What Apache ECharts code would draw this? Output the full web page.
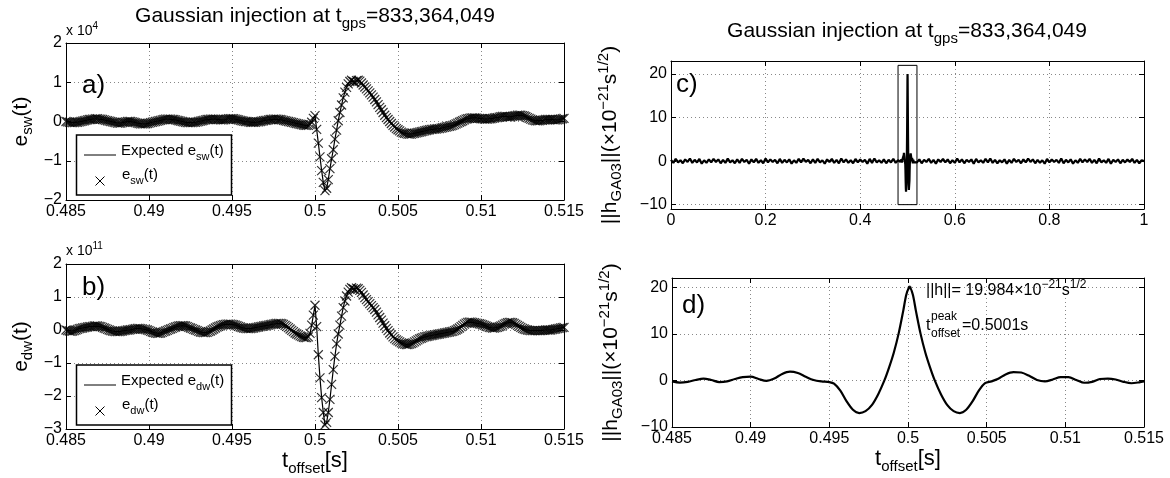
<!DOCTYPE html>
<html><head><meta charset="utf-8">
<script src="https://cdn.jsdelivr.net/npm/echarts@6/dist/echarts.min.js"></script>
<style>html,body{margin:0;padding:0;background:#fff}#c{width:1170px;height:478px}</style>
</head><body><div id="c"></div>
<script>
// ---------------- data ----------------
const tStart = 0.485, tStep = 0.0001;           // sample grid of panels a) and b)
// panel a) e_sw(t) in units of 1e4
const eswVals = [
0.00,-0.01,-0.02,-0.03,-0.03,-0.03,-0.02,-0.02,-0.01,0.00,
0.01,0.02,0.03,0.04,0.05,0.05,0.06,0.06,0.07,0.07,
0.06,0.06,0.05,0.04,0.03,0.02,0.01,0.00,-0.01,-0.02,
-0.03,-0.04,-0.04,-0.04,-0.03,-0.02,-0.01,0.00,0.00,0.00,
-0.01,-0.02,-0.03,-0.04,-0.05,-0.06,-0.06,-0.06,-0.06,-0.05,
-0.04,-0.03,-0.02,-0.01,0.00,0.01,0.02,0.03,0.04,0.05,
0.06,0.06,0.06,0.06,0.05,0.05,0.04,0.03,0.02,0.01,
0.00,-0.01,-0.02,-0.03,-0.03,-0.03,-0.03,-0.02,-0.02,-0.01,
0.00,0.01,0.02,0.03,0.04,0.05,0.05,0.06,0.06,0.06,
0.06,0.05,0.05,0.04,0.04,0.04,0.05,0.06,0.07,0.07,
0.07,0.07,0.06,0.05,0.04,0.03,0.02,0.01,0.00,0.00,
-0.01,-0.02,-0.02,-0.02,-0.02,-0.01,-0.01,0.00,0.01,0.02,
0.03,0.03,0.04,0.05,0.05,0.06,0.06,0.06,0.05,0.05,
0.04,0.03,0.02,0.01,0.00,-0.01,-0.02,-0.03,-0.04,-0.05,
-0.06,-0.07,-0.08,-0.09,-0.10,-0.10,-0.10,-0.08,-0.02,0.08,
0.15,-0.20,-0.55,-0.90,-1.25,-1.55,-1.76,-1.70,-1.48,-1.20,
-0.95,-0.72,-0.45,-0.22,0.02,0.23,0.42,0.60,0.75,0.87,
0.96,1.02,1.05,1.02,1.00,1.04,1.05,1.03,0.98,0.93,
0.88,0.83,0.78,0.73,0.68,0.62,0.56,0.50,0.43,0.36,
0.30,0.23,0.16,0.10,0.05,0.00,-0.05,-0.10,-0.14,-0.18,
-0.21,-0.24,-0.27,-0.29,-0.30,-0.31,-0.32,-0.32,-0.32,-0.31,
-0.30,-0.29,-0.28,-0.27,-0.26,-0.25,-0.24,-0.23,-0.22,-0.21,
-0.20,-0.20,-0.19,-0.19,-0.18,-0.18,-0.17,-0.16,-0.15,-0.14,
-0.13,-0.12,-0.11,-0.10,-0.08,-0.06,-0.04,-0.02,0.00,0.02,
0.04,0.06,0.07,0.08,0.09,0.09,0.09,0.09,0.08,0.08,
0.07,0.07,0.06,0.06,0.06,0.07,0.07,0.08,0.09,0.10,
0.10,0.11,0.12,0.13,0.13,0.13,0.12,0.12,0.12,0.13,
0.14,0.15,0.16,0.16,0.16,0.15,0.14,0.12,0.10,0.08,
0.06,0.04,0.03,0.02,0.02,0.02,0.03,0.03,0.04,0.05,
0.05,0.05,0.05,0.05,0.04,0.04,0.04,0.05,0.06,0.07,0.08];
// panel b) e_dw(t) in units of 1e11
const edwVals = [
0.00,-0.02,-0.03,-0.04,-0.03,-0.02,0.00,0.02,0.04,0.05,
0.06,0.07,0.08,0.09,0.10,0.10,0.11,0.12,0.12,0.12,
0.11,0.10,0.08,0.06,0.04,0.02,0.00,-0.02,-0.03,-0.04,
-0.05,-0.05,-0.05,-0.04,-0.03,-0.02,-0.01,0.00,0.00,0.01,
0.02,0.03,0.04,0.05,0.05,0.04,0.03,0.02,0.01,0.00,
-0.02,-0.04,-0.06,-0.08,-0.09,-0.10,-0.10,-0.09,-0.07,-0.05,
-0.03,-0.01,0.01,0.03,0.05,0.07,0.09,0.11,0.12,0.13,
0.13,0.13,0.12,0.10,0.08,0.06,0.04,0.02,0.00,-0.02,
-0.04,-0.06,-0.07,-0.08,-0.08,-0.07,-0.05,-0.03,0.00,0.03,
0.06,0.09,0.11,0.13,0.15,0.16,0.17,0.18,0.18,0.18,
0.17,0.16,0.15,0.13,0.11,0.09,0.07,0.06,0.05,0.04,
0.04,0.04,0.05,0.06,0.07,0.08,0.09,0.10,0.11,0.12,
0.13,0.14,0.15,0.16,0.17,0.18,0.19,0.20,0.20,0.20,
0.19,0.17,0.14,0.11,0.07,0.03,-0.01,-0.05,-0.09,-0.12,
-0.15,-0.18,-0.20,-0.22,-0.23,-0.23,-0.21,-0.10,0.15,0.45,
0.75,0.10,-0.75,-1.45,-2.05,-2.50,-2.88,-2.80,-2.50,-2.10,
-1.65,-1.20,-0.80,-0.42,-0.12,0.15,0.42,0.68,0.88,1.03,
1.15,1.23,1.28,1.25,1.22,1.27,1.25,1.20,1.14,1.06,
0.98,0.92,0.86,0.80,0.74,0.68,0.62,0.54,0.46,0.38,
0.30,0.21,0.13,0.05,-0.02,-0.09,-0.15,-0.21,-0.26,-0.30,
-0.33,-0.36,-0.39,-0.41,-0.43,-0.44,-0.44,-0.43,-0.41,-0.39,
-0.36,-0.33,-0.30,-0.27,-0.25,-0.23,-0.21,-0.20,-0.19,-0.18,
-0.17,-0.16,-0.15,-0.14,-0.13,-0.12,-0.11,-0.10,-0.09,-0.08,
-0.07,-0.06,-0.05,-0.04,-0.02,0.00,0.03,0.06,0.10,0.14,
0.18,0.21,0.23,0.24,0.24,0.23,0.22,0.21,0.20,0.19,
0.18,0.16,0.14,0.12,0.10,0.08,0.07,0.06,0.06,0.07,
0.08,0.10,0.12,0.15,0.18,0.20,0.22,0.23,0.23,0.22,
0.20,0.17,0.14,0.11,0.08,0.05,0.03,0.01,0.00,-0.01,
-0.02,-0.02,-0.02,-0.02,-0.02,-0.02,-0.02,-0.01,-0.01,0.00,
0.00,0.00,0.00,0.01,0.02,0.03,0.04,0.05,0.06,0.07,0.08];
// panel d) ||h_GA03|| (1e-21 s^1/2) around the peak
const tD = [0.4850,0.4855,0.4860,0.4865,0.4870,0.4875,0.4880,0.4885,0.4890,0.4895,0.4900,0.4905,0.4910,0.4915,0.4920,0.4925,0.4930,0.4935,0.4940,0.4945,0.4950,
0.4953,0.4957,0.4961,0.4965,0.4969,0.4973,0.4977,0.4981,0.4985,0.4988,0.4991,0.4994,0.4997,0.4999,0.5001,0.5003,0.5005,0.5008,0.5011,0.5014,0.5017,
0.5021,0.5025,0.5029,0.5033,0.5037,0.5041,0.5045,0.5049,0.5053,0.5057,0.5062,0.5067,0.5072,0.5077,0.5082,0.5087,0.5092,0.5097,0.5102,0.5107,0.5112,
0.5117,0.5122,0.5127,0.5132,0.5137,0.5142,0.5147,0.5150];
const hD = [-0.2,-0.45,-0.3,0.1,0.4,0.1,-0.35,-0.2,0.3,0.7,0.8,0.3,-0.1,0.4,1.4,1.9,1.6,0.8,0.1,-0.2,-0.35,
-0.7,-2.2,-4.5,-6.3,-7.0,-6.6,-5.3,-3.0,0.0,2.8,6.0,10.0,15.0,18.5,20.0,18.5,15.0,10.0,6.0,2.8,0.0,
-3.0,-5.3,-6.6,-7.0,-6.3,-4.5,-2.2,-0.6,-0.2,0.3,1.3,1.8,1.7,1.0,0.1,-0.2,0.2,0.7,0.7,0.1,-0.5,
-0.3,0.3,0.4,0.2,-0.3,-0.6,-0.4,-0.2];
const dPeak = [0.5001, 19.984];
// panel c) whole second: background before / after the injection window
const cStep = 0.005, cLeftStart = 0, cRightStart = 0.52;
const cNoiseL = [
0.3,-0.4,0.5,-0.3,0.2,-0.5,0.4,-0.2,0.6,-0.4,
0.3,-0.3,0.5,-0.6,0.2,-0.4,0.4,-0.3,0.5,-0.2,
0.4,-0.5,0.3,-0.4,0.6,-0.3,0.2,-0.5,0.4,-0.4,
0.5,-0.2,0.3,-0.6,0.4,-0.3,0.5,-0.4,0.2,-0.5,
0.6,-0.3,0.4,-0.2,0.3,-0.5,0.5,-0.4,0.3,-0.3,
0.4,-0.6,0.2,-0.4,0.5,-0.3,0.6,-0.2,0.3,-0.5,
0.4,-0.4,0.5,-0.3,0.2,-0.6,0.4,-0.2,0.5,-0.4,
0.3,-0.5,0.6,-0.3,0.4,-0.4,0.2,-0.5,0.5,-0.3,
0.4,-0.2,0.3,-0.6,0.5,-0.4,0.6,-0.3,0.2,-0.4,
0.4,-0.5,0.3,-0.3,0.5,-0.4,0.2];
const cNoiseR = [
-0.3,0.4,-0.5,0.3,-0.2,0.5,-0.4,0.3,-0.6,0.4,
-0.2,0.5,-0.3,0.4,-0.5,0.2,-0.4,0.6,-0.3,0.4,
-0.5,0.3,-0.2,0.4,-0.6,0.5,-0.3,0.2,-0.4,0.5,
-0.3,0.6,-0.4,0.3,-0.5,0.2,-0.3,0.4,-0.6,0.3,
-0.4,0.5,-0.2,0.3,-0.5,0.4,-0.3,0.6,-0.2,0.4,
-0.5,0.3,-0.4,0.2,-0.6,0.5,-0.3,0.4,-0.2,0.3,
-0.4,0.6,-0.5,0.3,-0.3,0.4,-0.6,0.2,-0.4,0.5,
-0.3,0.4,-0.2,0.5,-0.4,0.3,-0.5,0.6,-0.3,0.2,
-0.4,0.5,-0.6,0.3,-0.2,0.4,-0.5,0.3,-0.3,0.4,
-0.2,0.5,-0.4,0.3,-0.5,0.2,0.0];
const cBox = [[0.48, -10], [0.52, 22]];
// axis ranges / tick steps
const zoomRange = [0.485, 0.515], zoomStep = 0.005;
const fullRange = [0, 1], fullStep = 0.2;
const aRange = [-2, 2], bRange = [-3, 2], cRange = [-11, 23], dRange = [-10, 22];
// texts
const titleRich = '{m|Gaussian injection at t}{s|gps}{m|=833,364,049}';

// ---------------- fonts ----------------
const RF = '"Liberation Sans", Arial, sans-serif';

// ---------------- build data ----------------
const tAB = eswVals.map((_, i) => +(tStart + i * tStep).toFixed(4));
const aData = tAB.map((t, i) => [t, eswVals[i]]);
const bData = tAB.map((t, i) => [t, edwVals[i]]);
const dData = tD.map((t, i) => [t, hD[i]]);
const cData = [].concat(
  cNoiseL.map((v, i) => [+(cLeftStart + i * cStep).toFixed(3), v]),
  dData,
  cNoiseR.map((v, i) => [+(cRightStart + i * cStep).toFixed(3), v]));

const fmt = v => String(+(+v).toFixed(6)).replace('-', '\u2212');
const axLine = {show: true, onZero: false, lineStyle: {color: '#000', width: 1}};
const axTick = {show: true, inside: true, length: 5, lineStyle: {color: '#000', width: 1}};
const split = {show: true, lineStyle: {color: '#888', type: [1, 3], width: 1}};
const lab = {color: '#000', fontFamily: RF, fontSize: 16, margin: 4, formatter: fmt};

function xPair(gi, range, step, extra) {
  const base = {type: 'value', gridIndex: gi, min: range[0], max: range[1], interval: step, axisLine: axLine, axisTick: axTick};
  return [Object.assign({}, base, {position: 'bottom', axisLabel: lab, splitLine: split}, extra || {}),
          Object.assign({}, base, {position: 'top', axisLabel: {show: false}, splitLine: {show: false}})];
}
function yPair(gi, range, step, extra, hideMax) {
  const base = {type: 'value', gridIndex: gi, min: range[0], max: range[1], axisLine: axLine, axisTick: axTick};
  if (step) base.interval = step; else base.splitNumber = 3;
  const l = Object.assign({}, lab);
  if (!step) { l.showMinLabel = false; l.showMaxLabel = false; }
  if (hideMax) l.showMaxLabel = false;
  return [Object.assign({}, base, {position: 'left', axisLabel: l, splitLine: split}, extra || {}),
          Object.assign({}, base, {position: 'right', axisLabel: {show: false}, splitLine: {show: false}})];
}
const nameRichRot = {
  m: {fontFamily: RF, fontSize: 21, color: '#000'},
  s: {fontFamily: RF, fontSize: 15, color: '#000', padding: [13, 0, 0, 0]},
  p: {fontFamily: RF, fontSize: 15, color: '#000', padding: [0, 0, 13, 0]}
};
const nameRichX = {
  m: {fontFamily: RF, fontSize: 22, color: '#000'},
  s: {fontFamily: RF, fontSize: 15, color: '#000', padding: [15, 0, 0, 0]}
};
const yName = txt => ({name: txt, nameLocation: 'middle', nameRotate: 90, nameTextStyle: {rich: nameRichRot}});
const hName = '{m|||h}{s|GA03}{m|||(\u00d710}{p|\u221221}{m|s}{p|1/2}{m|)}';
const xName = {name: '{m|t}{s|offset}{m|[s]}', nameLocation: 'middle', nameGap: 14, nameTextStyle: {rich: nameRichX}};

const xAxis = [].concat(
  xPair(0, zoomRange, zoomStep),
  xPair(1, zoomRange, zoomStep, xName),
  xPair(2, fullRange, fullStep),
  xPair(3, zoomRange, zoomStep, xName));
const yAxis = [].concat(
  yPair(0, aRange, 1, Object.assign(yName('{m|e}{s|sw}{m|(t)}'), {nameGap: 31})),
  yPair(1, bRange, 1, Object.assign(yName('{m|e}{s|dw}{m|(t)}'), {nameGap: 31})),
  yPair(2, cRange, 0, Object.assign(yName(hName), {nameGap: 47})),
  yPair(3, dRange, 10, Object.assign(yName(hName), {nameGap: 47}), true));

const crossPath = 'path://M0,0L10,10M10,0L0,10';
function markerSeries(data, xi, yi, name) {
  return {name, type: 'scatter', xAxisIndex: xi, yAxisIndex: yi, data, symbol: crossPath, symbolSize: 9, clip: false,
    itemStyle: {color: 'rgba(0,0,0,0)', borderColor: '#000', borderWidth: 1.2}, z: 3, silent: true};
}
function lineSeries(data, xi, yi, name, w, extra) {
  return Object.assign({name, type: 'line', xAxisIndex: xi, yAxisIndex: yi, data, showSymbol: false, symbol: 'none',
    lineStyle: {color: '#000', width: w}, z: 2, silent: true}, extra || {});
}

const series = [
  lineSeries(aData, 0, 0, 'Expected e_sw(t)', 1.2),
  markerSeries(aData, 0, 0, 'e_sw(t)'),
  lineSeries(bData, 2, 2, 'Expected e_dw(t)', 1.2),
  markerSeries(bData, 2, 2, 'e_dw(t)'),
  lineSeries(cData, 4, 4, '||h_GA03|| full', 2.2, {
    markArea: {silent: true, itemStyle: {color: 'rgba(0,0,0,0)', borderColor: '#000', borderWidth: 1},
      data: [[{coord: cBox[0]}, {coord: cBox[1]}]]}}),
  lineSeries(dData, 6, 6, '||h_GA03|| zoom', 2.2, {smooth: 0.3}),
  {type: 'scatter', xAxisIndex: 6, yAxisIndex: 6, data: [dPeak], symbol: 'circle', symbolSize: 4,
    itemStyle: {color: '#000'}, z: 4, silent: true}
];

// ---------------- free text / legends ----------------
const G = [];
function txt(x, y, text, rich, align) {
  G.push({type: 'text', x, y, z: 100, silent: true,
    style: {text, rich, align: align || 'left', verticalAlign: 'middle', fill: '#000'}});
}
const titleStyle = {
  m: {fontFamily: RF, fontSize: 21, fill: '#000'},
  s: {fontFamily: RF, fontSize: 15, fill: '#000', padding: [15, 0, 0, 0]}
};
txt(315, 16, titleRich, titleStyle, 'center');
txt(907, 31, titleRich, titleStyle, 'center');
const expStyle = {
  m: {fontFamily: RF, fontSize: 14, fill: '#000'},
  p: {fontFamily: RF, fontSize: 10, fill: '#000', padding: [0, 0, 10, 0]}
};
txt(66, 31, '{m|x 10}{p|4}', expStyle);
txt(66, 251, '{m|x 10}{p|11}', expStyle);
const letterStyle = {m: {fontFamily: RF, fontSize: 26, fill: '#000'}};
txt(82, 86, '{m|a)}', letterStyle);
txt(82, 288, '{m|b)}', letterStyle);
txt(676, 85, '{m|c)}', letterStyle);
txt(682, 306, '{m|d)}', letterStyle);

const legStyle = {
  m: {fontFamily: RF, fontSize: 15, fill: '#000'},
  s: {fontFamily: RF, fontSize: 11, fill: '#000', padding: [11, 0, 0, 0]}
};
function legend(top, sub) {
  G.push({type: 'rect', z: 100, silent: true, shape: {x: 76.5, y: top, width: 155, height: 60},
    style: {fill: '#fff', stroke: '#000', lineWidth: 1.5}});
  G.push({type: 'line', z: 101, silent: true, shape: {x1: 84, y1: top + 20, x2: 116, y2: top + 20},
    style: {stroke: '#000', lineWidth: 1}});
  const cx = 100, cy = top + 46, r = 4.5;
  G.push({type: 'line', z: 101, silent: true, shape: {x1: cx - r, y1: cy - r, x2: cx + r, y2: cy + r}, style: {stroke: '#000', lineWidth: 1}});
  G.push({type: 'line', z: 101, silent: true, shape: {x1: cx - r, y1: cy + r, x2: cx + r, y2: cy - r}, style: {stroke: '#000', lineWidth: 1}});
  txt(121, top + 16, '{m|Expected e}{s|' + sub + '}{m|(t)}', legStyle);
  txt(122, top + 40, '{m|e}{s|' + sub + '}{m|(t)}', legStyle);
}
legend(135, 'sw');
legend(365, 'dw');

const annStyle = {
  m: {fontFamily: RF, fontSize: 16, fill: '#000'},
  p: {fontFamily: RF, fontSize: 12, fill: '#000', padding: [0, 0, 12, 0]}
};
const smallStyle = {p: {fontFamily: RF, fontSize: 12, fill: '#000'}};
txt(926, 291, '{m|||h||= 19.984\u00d710}{p|\u221221}{m|s}{p|1/2}', annStyle);
txt(926, 326, '{m|t}', annStyle);
txt(931, 317, '{p|peak}', smallStyle);
txt(931, 334, '{p|offset}', smallStyle);
txt(962, 326, '{m|=0.5001s}', annStyle);

const chart = echarts.init(document.getElementById('c'), null, {renderer: 'canvas'});
chart.setOption({
  animation: false,
  backgroundColor: '#fff',
  grid: [
    {left: 66, top: 43, width: 498, height: 157},
    {left: 66, top: 264, width: 498, height: 165},
    {left: 671, top: 61, width: 473, height: 148},
    {left: 672, top: 278, width: 472, height: 149}
  ],
  xAxis, yAxis, series,
  graphic: {elements: G}
});
</script></body></html>
